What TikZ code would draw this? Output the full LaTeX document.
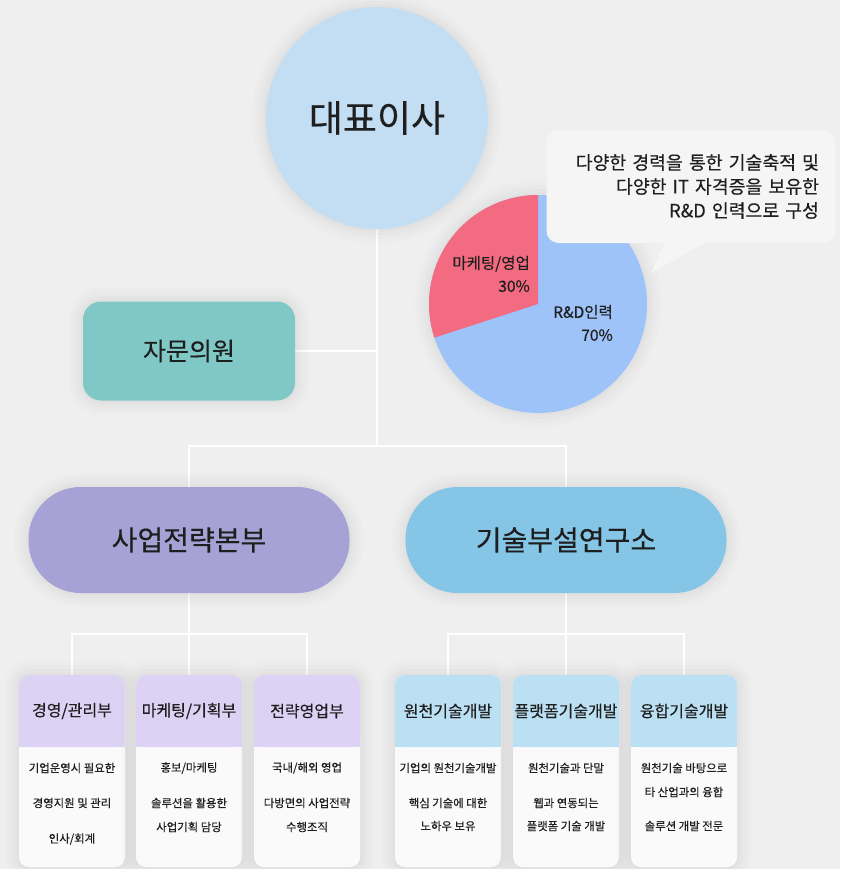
\documentclass[tikz,border=0pt]{standalone}
\usepackage{fontspec}
\setmainfont{Noto Sans CJK KR}[FakeBold=0.35]
\definecolor{bgc}{HTML}{EFEFEF}
\definecolor{ink}{HTML}{1E1E1E}
\definecolor{ceoc}{HTML}{C3DDF3}
\definecolor{advc}{HTML}{7FC8C6}
\definecolor{pillA}{HTML}{A7A2D6}
\definecolor{pillB}{HTML}{85C5E5}
\definecolor{hdA}{HTML}{DCD2F4}
\definecolor{hdB}{HTML}{BCE0F3}
\definecolor{bodyc}{HTML}{FAFAFA}
\definecolor{piered}{HTML}{F36B81}
\definecolor{pieblue}{HTML}{9DC3F9}
\definecolor{bubc}{HTML}{F5F5F5}
\pgfdeclarelayer{bglayer}
\pgfsetlayers{bglayer,main}
\begin{document}
\begin{tikzpicture}[x=1pt,y=-1pt,
  conn/.style={draw=white, line width=2pt},
  shad/.style={preaction={draw=black, draw opacity=0.010, line width=28pt},
               preaction={draw=black, draw opacity=0.012, line width=20pt},
               preaction={draw=black, draw opacity=0.014, line width=12pt},
               preaction={draw=black, draw opacity=0.016, line width=5pt}},
  pill/.style={rectangle, rounded corners=52pt, minimum width=321pt, minimum height=106pt, inner sep=0pt, text=ink, font=\fontsize{28}{30}\selectfont, shad},
  boxbody/.style={rectangle, rounded corners=10pt, fill=bodyc, minimum width=106pt, minimum height=192pt, inner sep=0pt, shad},
  hdr/.style={rectangle, rounded corners=10pt, minimum width=106pt, minimum height=72pt, inner sep=0pt, text=ink, font=\fontsize{16}{18}\selectfont},
  btxt/.style={inner sep=0pt, text=ink, font=\fontsize{11.4}{13}\selectfont},
  plabel/.style={inner sep=0pt, text=ink, align=right, anchor=east, font=\fontsize{15.5}{23}\selectfont}
]
\useasboundingbox (0,0) rectangle (840,869);

% top nodes
\node[circle, fill=ceoc, minimum size=222pt, inner sep=0pt, text=ink, font=\fontsize{37}{40}\selectfont, shad] (ceo) at (377,118) {대표이사};
\node[rectangle, rounded corners=18pt, fill=advc, minimum width=212pt, minimum height=99pt, inner sep=0pt, text=ink, font=\fontsize{25}{28}\selectfont, shad] (adv) at (189,351) {자문의원};

% pie chart
\node[circle, fill=pieblue, minimum size=218pt, inner sep=0pt, shad] (pie) at (538,304) {};
\begin{scope}[shift={(pie.center)}, y=1pt]
  \fill[piered] (0,0) -- (90:109pt) arc[start angle=90, end angle=198, radius=109pt] -- cycle;
\end{scope}
\node[plabel] (pl1) at (530,274) {마케팅/영업\\30\%};
\node[plabel] (pl2) at (613,323) {R\&D인력\\70\%};

% callout
\fill[bubc] (668,236) -- (717,236) -- (651,273) -- cycle;
\node[rectangle, rounded corners=12pt, fill=bubc, minimum width=289pt, minimum height=113pt, text width=256pt, align=right, inner xsep=16.5pt, text=ink, font=\fontsize{18.3}{24}\selectfont] (note) at (691,186.5) {다양한 경력을 통한 기술축적 및\\다양한 IT 자격증을 보유한\\R\&D 인력으로 구성};

% division pills
\node[pill, fill=pillA] (sbiz) at (189,540) {사업전략본부};
\node[pill, fill=pillB] (lab) at (566,540) {기술부설연구소};

% small boxes
\foreach \n/\x in {1/72,2/189,3/307,4/448,5/566,6/684}{
  \node[boxbody] (b\n) at (\x,771) {};
}
\node[hdr, fill=hdA] (b1h) at (72,711) {경영/관리부};
\node[hdr, fill=hdA] (b2h) at (189,711) {마케팅/기획부};
\node[hdr, fill=hdA] (b3h) at (307,711) {전략영업부};
\node[hdr, fill=hdB] (b4h) at (448,711) {원천기술개발};
\node[hdr, fill=hdB] (b5h) at (566,711) {플랫폼기술개발};
\node[hdr, fill=hdB] (b6h) at (684,711) {융합기술개발};
\foreach \n/\c in {1/hdA,2/hdA,3/hdA,4/hdB,5/hdB,6/hdB}{
  \fill[\c] (b\n h.south west) rectangle ([yshift=12pt]b\n h.south east);
}

% body texts
\node[btxt] (t11) at (72,768) {기업운영시 필요한};
\node[btxt] (t12) at (72,803) {경영지원 및 관리};
\node[btxt] (t13) at (72,839) {인사/회계};
\node[btxt] (t21) at (189,768) {홍보/마케팅};
\node[btxt] (t22) at (189,803) {솔루션을 활용한};
\node[btxt] (t23) at (189,827) {사업기획 담당};
\node[btxt] (t31) at (307,768) {국내/해외 영업};
\node[btxt] (t32) at (307,803) {다방면의 사업전략};
\node[btxt] (t33) at (307,827) {수행조직};
\node[btxt] (t41) at (448,768) {기업의 원천기술개발};
\node[btxt] (t42) at (448,803) {핵심 기술에 대한};
\node[btxt] (t43) at (448,826) {노하우 보유};
\node[btxt] (t51) at (566,768) {원천기술과 단말};
\node[btxt] (t52) at (566,803) {웹과 연동되는};
\node[btxt] (t53) at (566,826) {플랫폼 기술 개발};
\node[btxt] (t61) at (684,768) {원천기술 바탕으로};
\node[btxt] (t62) at (684,792) {타 산업과의 융합};
\node[btxt] (t63) at (684,826) {솔루션 개발 전문};

% connectors (behind)
\coordinate (j1) at (377,446);
\coordinate (j2) at (189,634);
\coordinate (j3) at (566,634);
\begin{pgfonlayer}{bglayer}
  \fill[bgc] (0,0) rectangle (840,869);
  \draw[conn] (ceo.south) -- (j1);
  \draw[conn] (adv.east) -- (adv.east -| j1);
  \draw[conn] (sbiz.north) |- (j1) -| (lab.north);
  \draw[conn] (sbiz.south) -- (j2);
  \draw[conn] (b1h.north) |- (j2) -| (b3h.north);
  \draw[conn] (j2) -- (b2h.north);
  \draw[conn] (lab.south) -- (j3);
  \draw[conn] (b4h.north) |- (j3) -| (b6h.north);
  \draw[conn] (j3) -- (b5h.north);
\end{pgfonlayer}
\end{tikzpicture}
\end{document}
